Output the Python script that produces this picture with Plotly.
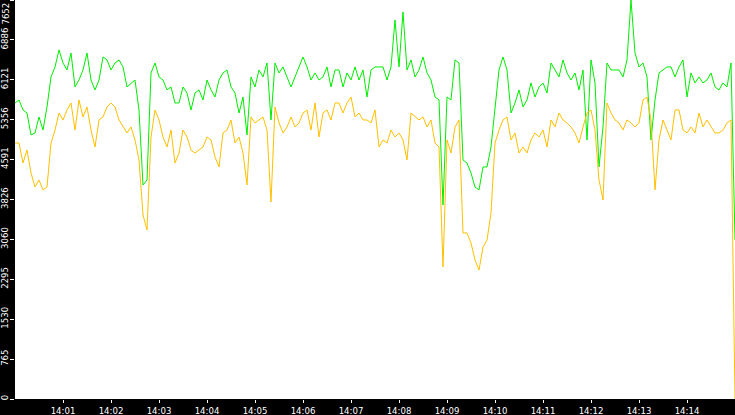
import pandas as pd
import plotly.graph_objects as go

start_time = "2024-01-01 14:00:00"
end_time = "2024-01-01 14:15:00"
step_seconds = 5

green_values = [
    5677, 5735, 5543, 5485, 5064, 5102, 5409, 5159, 5601, 6176, 6368, 6694, 6444, 6310, 6636, 5984,
    6118, 6310, 6636, 6118, 5927, 6118, 6560, 6502, 6310, 6444, 6502, 6368, 5984, 6061, 6118, 5543,
    4105, 4200, 6253, 6444, 6176, 6118, 5927, 5984, 5677, 5677, 5984, 5869, 5543,
    5869, 5927, 5735, 6118, 5927, 5792, 6118, 6253, 6310, 5984, 5869, 5485, 5792, 5064, 6176, 5984,
    6310, 6176, 6444, 5351, 6444, 6253, 6368, 6176, 5984, 6176, 6368, 6560, 6368, 6118, 6253, 6118,
    6176, 6368, 5984, 6310, 6310, 5984, 6253, 6118, 6368, 6118, 6310, 5792, 6310,
    6368, 6368, 6368, 6118, 6368, 7269, 6368, 7423, 6310, 6502, 6176, 6310, 6560, 6253, 6118, 5792,
    5735, 3721, 5792, 5735, 6502, 6444, 4584, 4526, 4335, 4066, 4009, 4450, 4450, 4833, 5601, 6310,
    6560, 6310, 5485, 5677, 5927, 5601, 5735, 6061, 5792, 5984, 6061, 5869, 6444,
    6310, 6176, 6502, 6253, 6118, 6253, 5927, 6310, 4968, 6502, 6061, 4450, 5217, 6444, 6310, 6310,
    6310, 6176, 6502, 7652, 6636, 6368, 6444, 6176, 4968, 5735, 6253, 6310, 6368, 6368, 6176, 6368,
    6502, 5792, 6253, 6061, 6176, 6061, 6118, 6253, 5984, 5927, 6061, 5984, 6444, 3050,
]

orange_values = [
    4910, 4910, 4526, 4776, 4335, 4066, 4200, 4009, 4066, 4910, 5159, 5485, 5351, 5543, 5677, 5159,
    5735, 5409, 5601, 5159, 4833, 5351, 5409, 5601, 5677, 5601, 5351, 5217, 5102, 5217, 4968, 4584,
    3529, 3241, 5025, 5543, 5351, 5025, 4833, 5159, 4526, 4718, 5159, 5025, 4776,
    4718, 4776, 4833, 5025, 4968, 4641, 4450, 5102, 5159, 5351, 4910, 5025, 4718, 4105, 5409, 5294,
    5351, 5409, 5159, 3778, 5601, 5294, 5102, 5217, 5409, 5217, 5294, 5485, 5543, 5159, 5677, 5025,
    5485, 5543, 5351, 5677, 5677, 5485, 5677, 5792, 5409, 5485, 5351, 5351, 5294,
    5543, 4833, 4968, 4910, 5159, 5025, 5102, 4968, 4584, 5485, 5409, 5351, 5409, 5217, 5351, 4910,
    4833, 2532, 4968, 4718, 5217, 5351, 3184, 3184, 2992, 2666, 2474, 2915, 3050, 3567, 4910, 5159,
    5351, 5409, 4968, 5102, 4718, 4833, 4718, 4968, 5102, 5025, 5159, 4833, 5351,
    5217, 5485, 5351, 5294, 5217, 5102, 4910, 5217, 5485, 5543, 5159, 4200, 3817, 5677, 5485, 5351,
    5294, 5159, 5351, 5294, 5217, 5294, 5735, 5792, 5351, 4009, 4968, 5351, 5159, 4968, 5543, 5543,
    5159, 5102, 5217, 5102, 5485, 5217, 5351, 5217, 5102, 5102, 5159, 5294, 5351, 0,
]

y_tick_values = [0, 765, 1530, 2295, 3060, 3826, 4591, 5356, 6121, 6886, 7652]
y_tick_labels = ["0", "765", "1530", "2295", "3060", "3826", "4591", "5356", "6121", "6886", "7652"]

x_tick_labels = ["14:01", "14:02", "14:03", "14:04", "14:05", "14:06", "14:07",
                 "14:08", "14:09", "14:10", "14:11", "14:12", "14:13", "14:14"]

times = pd.date_range(start_time, periods=len(green_values), freq=f"{step_seconds}s")
x_tick_values = [pd.Timestamp("2024-01-01 " + t) for t in x_tick_labels]

font_family = "Liberation Sans Narrow, DejaVu Sans Condensed, DejaVu Sans Mono, monospace"
tick_font = dict(family=font_family, size=9.5, color="white")

fig = go.Figure()
fig.add_trace(go.Scatter(x=times, y=green_values, mode="lines",
                         line=dict(color="#00ee00", width=1), hoverinfo="skip"))
fig.add_trace(go.Scatter(x=times, y=orange_values, mode="lines",
                         line=dict(color="#ffc000", width=1), hoverinfo="skip"))

# top y label drawn inside the canvas (would otherwise fall off the top edge)
fig.add_annotation(
    text=y_tick_labels[-1], xref="paper", yref="paper", x=0, y=1,
    xanchor="right", yanchor="top", xshift=-3, yshift=-1,
    textangle=-90, showarrow=False, font=tick_font,
)

fig.update_layout(
    width=735, height=415,
    margin=dict(l=15, r=0, t=0, b=16),
    paper_bgcolor="black",
    plot_bgcolor="white",
    showlegend=False,
    font=tick_font,
)
fig.update_xaxes(
    range=[pd.Timestamp(start_time), pd.Timestamp(end_time)],
    tickvals=x_tick_values, ticktext=x_tick_labels,
    ticks="outside", ticklen=3, tickcolor="white", tickwidth=1,
    showgrid=False, zeroline=False, showline=False, automargin=False,
    tickfont=tick_font,
)
fig.update_yaxes(
    range=[0, 7652],
    tickvals=y_tick_values, ticktext=y_tick_labels[:-1] + [""],
    tickangle=-90,
    ticks="outside", ticklen=4, tickcolor="white", tickwidth=1,
    ticklabelstandoff=-2,
    showgrid=False, zeroline=False, showline=False, automargin=False,
    tickfont=tick_font,
)

fig.write_html(
    "out.html",
    config={"displayModeBar": False},
    post_script="document.body.style.margin='0';document.body.style.overflow='hidden';"
                "document.body.style.background='black';",
)
